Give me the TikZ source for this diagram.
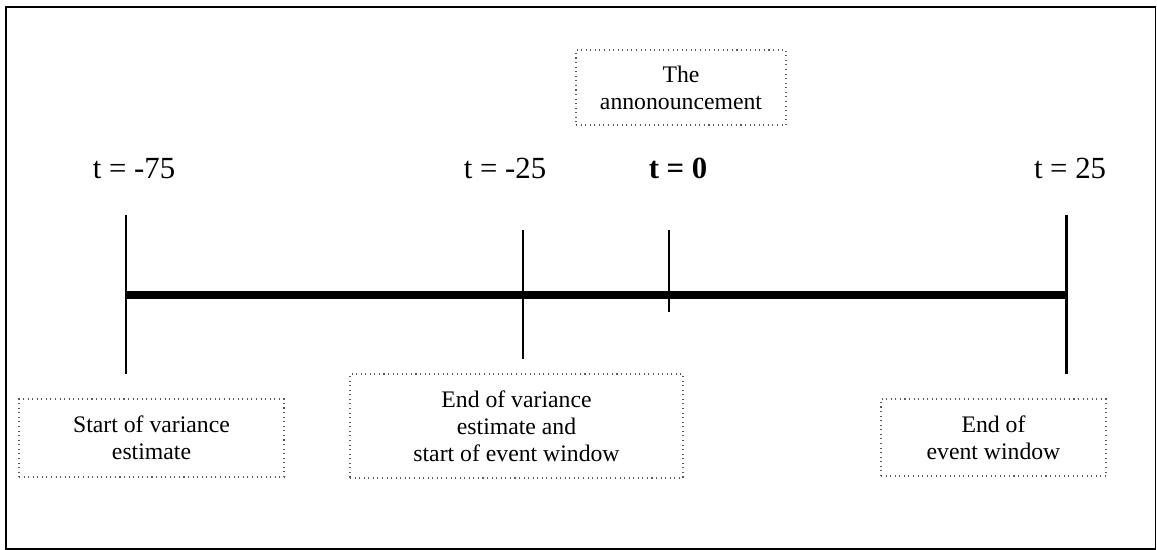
\documentclass[tikz,border=0pt]{standalone}
\usepackage{fontspec}
\setmainfont{Liberation Serif}
\usepackage{tikz}
\definecolor{C0}{RGB}{0,0,0}
\definecolor{C1}{RGB}{90,90,90}
\tikzset{
  tlabel/.style={anchor=base,font=\fontsize{17.5}{20}\selectfont},
  notebox/.style={draw=C1,dotted,line width=0.6pt,align=center,inner sep=0pt,
    font=\fontsize{13.5}{15.4}\selectfont},
  boxsize/.style 2 args={minimum width=#1*0.02cm,minimum height=#2*0.02cm},
  bigtick/.style={line width=1.7pt},
  smalltick/.style={line width=0.75pt}
}

\begin{document}
\begin{tikzpicture}[x=0.02cm,y=-0.02cm]
        \useasboundingbox (0,0) rectangle (1157,550);
        \draw[line width=1.1pt] (6,7) rectangle (1155.5,549);

        % time axis
        \coordinate (a75top) at (126,215);  \coordinate (a75bot) at (126,374);
        \coordinate (a25mtop) at (523,230); \coordinate (a25mbot) at (523,359);
        \coordinate (a0top) at (669,230);   \coordinate (a0bot) at (669,312);
        \coordinate (a25top) at (1066,215); \coordinate (a25bot) at (1066,374);
        \coordinate (axl) at (126,295);     \coordinate (axr) at (1066,295);

        \draw[line width=4pt] (axl) -- (axr);
        \draw[bigtick] (a75top) -- (a75bot);
        \draw[smalltick] (a25mtop) -- (a25mbot);
        \draw[smalltick] (a0top) -- (a0bot);
        \draw[bigtick] (a25top) -- (a25bot);

        \node[tlabel] (l75) at (134,179) {t = -75};
        \node[tlabel] (l25m) at (505,179) {t = -25};
        \node[tlabel] (l0) at (678,179) {\textbf{t = 0}};
        \node[tlabel] (l25) at (1070,179) {t = 25};

        \node[notebox,boxsize={210}{75}] (ann) at (681,87.5)
          {The\\annonouncement};
        \node[notebox,boxsize={265}{78}] (startbox) at (151.5,438)
          {Start of variance\\estimate};
        \node[notebox,boxsize={333}{104}] (midbox) at (516.5,426)
          {End of variance\\estimate and\\start of event window};
        \node[notebox,boxsize={225}{77}] (endbox) at (993.5,437.5)
          {End of\\event window};
\end{tikzpicture}
\end{document}
